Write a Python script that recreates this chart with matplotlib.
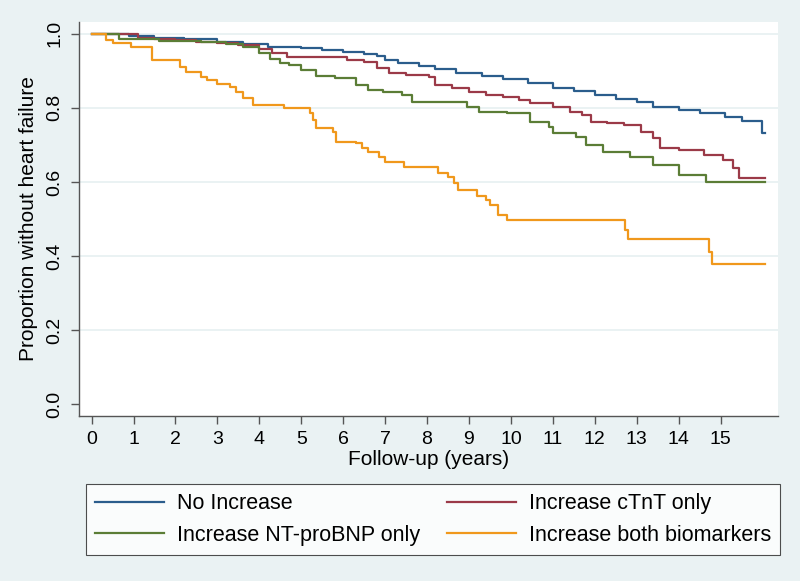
"""Kaplan-Meier curves: proportion without heart failure by biomarker change."""
import numpy as np
import matplotlib
matplotlib.use('Agg')
import matplotlib.pyplot as plt
import matplotlib as mpl

mpl.rcParams.update({'font.family': ['Liberation Sans', 'DejaVu Sans'], 'font.size': 14})

# step times (years) and survival value after each time
no_inc_t = [0, 0.9, 1.5, 2.2, 3.0, 3.6, 4.2, 5.0, 5.5, 6.0, 6.5, 6.8, 7.0, 7.3, 7.8, 8.2,
            8.7, 9.3, 9.8, 10.4, 11.0, 11.5, 12.0, 12.5, 13.0, 13.4, 14.0, 14.5, 15.1,
            15.5, 15.98, 16.05]
no_inc_s = [1.0, 0.995, 0.99, 0.985, 0.978, 0.972, 0.965, 0.962, 0.957, 0.952, 0.945, 0.94,
            0.93, 0.92, 0.912, 0.905, 0.895, 0.885, 0.877, 0.868, 0.855, 0.845, 0.835, 0.825,
            0.815, 0.803, 0.795, 0.785, 0.776, 0.765, 0.732, 0.732]

ctnt_t = [0, 1.1, 1.5, 2.0, 2.5, 3.0, 3.5, 4.0, 4.3, 4.65, 6.1, 6.5, 6.8, 7.1, 7.5, 8.05,
          8.2, 8.6, 9.0, 9.4, 9.8, 10.2, 10.45, 11.0, 11.4, 11.7, 11.9, 12.3, 12.7, 13.1,
          13.4, 13.55, 14.0, 14.6, 15.05, 15.3, 15.45, 16.05]
ctnt_s = [1.0, 0.99, 0.987, 0.983, 0.978, 0.975, 0.97, 0.96, 0.949, 0.938, 0.93, 0.924,
          0.908, 0.895, 0.89, 0.884, 0.862, 0.855, 0.843, 0.835, 0.83, 0.822, 0.814, 0.803,
          0.79, 0.78, 0.762, 0.758, 0.754, 0.735, 0.719, 0.692, 0.685, 0.673, 0.659, 0.638,
          0.61, 0.61]

bnp_t = [0, 0.65, 1.6, 2.6, 3.2, 3.6, 4.0, 4.25, 4.5, 4.7, 5.0, 5.35, 5.8, 6.3, 6.6, 6.95,
         7.4, 7.65, 8.95, 9.25, 9.9, 10.45, 10.9, 11.0, 11.55, 11.8, 12.2, 12.85, 13.4,
         14.0, 14.65, 16.05]
bnp_s = [1.0, 0.985, 0.982, 0.978, 0.972, 0.965, 0.949, 0.932, 0.92, 0.916, 0.903, 0.885,
         0.88, 0.862, 0.849, 0.843, 0.835, 0.816, 0.803, 0.789, 0.786, 0.762, 0.749, 0.732,
         0.722, 0.70, 0.681, 0.668, 0.646, 0.619, 0.60, 0.60]

both_t = [0, 0.35, 0.5, 0.95, 1.45, 2.1, 2.25, 2.6, 2.75, 3.0, 3.3, 3.45, 3.6, 3.85, 4.6,
          5.2, 5.28, 5.35, 5.75, 5.83, 6.3, 6.45, 6.6, 6.85, 7.0, 7.45, 8.25, 8.5, 8.65,
          8.75, 9.2, 9.4, 9.5, 9.7, 9.9, 12.72, 12.8, 14.72, 14.8, 16.05]
both_s = [1.0, 0.984, 0.976, 0.965, 0.93, 0.911, 0.897, 0.884, 0.876, 0.865, 0.857, 0.843,
          0.827, 0.808, 0.80, 0.786, 0.768, 0.746, 0.735, 0.708, 0.705, 0.692, 0.681, 0.668,
          0.654, 0.64, 0.624, 0.614, 0.597, 0.578, 0.562, 0.55, 0.538, 0.511, 0.497, 0.47,
          0.446, 0.41, 0.378, 0.378]

labels = ['No Increase', 'Increase cTnT only', 'Increase NT-proBNP only',
          'Increase both biomarkers']
colors = ['#2b5d8c', '#9b3a48', '#5b7d36', '#f0981c']
series = [(no_inc_t, no_inc_s), (ctnt_t, ctnt_s), (bnp_t, bnp_s), (both_t, both_s)]

BG = '#eaf2f3'
fig = plt.figure(figsize=(8.0, 5.81), dpi=100, facecolor=BG)
ax = fig.add_axes([79 / 800, 165 / 581, 699 / 800, 394 / 581])
ax.set_facecolor('white')

lines = []
for (t, s), c, lab in zip(series, colors, labels):
    ln, = ax.step(t, s, where='post', color=c, lw=1.6, label=lab)
    lines.append(ln)

ax.set_xlim(-0.3, 16.37)
ax.set_ylim(-0.032, 1.032)
ax.set_xticks(np.arange(0, 16))
ax.set_yticks(np.arange(0, 1.01, 0.2))
ax.set_yticklabels([f'{v:.1f}' for v in np.arange(0, 1.01, 0.2)])
for v in np.arange(0.2, 1.01, 0.2):
    ax.axhline(v, color=BG, lw=1.4, zorder=0)

for side in ['top', 'right']:
    ax.spines[side].set_visible(False)
for side in ['left', 'bottom']:
    ax.spines[side].set_color('#555555')
    ax.spines[side].set_linewidth(1.0)
ax.tick_params(axis='both', length=6, width=1.0, color='#555555', labelsize=14)
ax.tick_params(axis='x', pad=5)
ax.tick_params(axis='y', labelrotation=90, pad=5)
for lbl in ax.get_yticklabels():
    lbl.set_va('center')

ax.set_xlabel('Follow-up (years)', fontsize=15, labelpad=1)
ax.set_ylabel('Proportion without heart failure', fontsize=15, labelpad=6)

# legend fills row by row: reorder for matplotlib's column-major layout
order = [0, 2, 1, 3]
leg = fig.legend([lines[i] for i in order], [labels[i] for i in order],
                 loc='upper left', mode='expand', ncol=2,
                 bbox_to_anchor=(86 / 800, 1 - 553 / 581, 694 / 800, 69 / 581),
                 fontsize=15.5, frameon=True, fancybox=False, handlelength=3.2,
                 handletextpad=0.6, columnspacing=0.6, borderpad=0.42, labelspacing=0.5,
                 borderaxespad=0)
leg.get_frame().set_edgecolor('#222222')
leg.get_frame().set_linewidth(0.8)

plt.savefig('out.png', dpi=100, facecolor=BG)
